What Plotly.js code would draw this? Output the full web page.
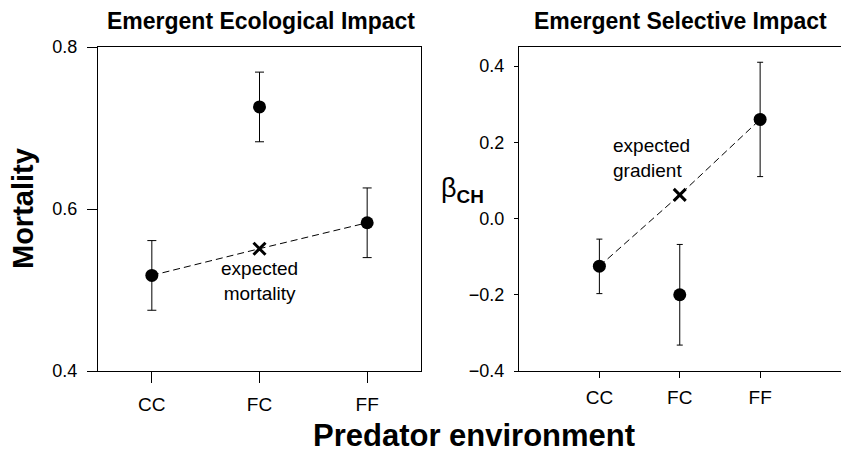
<!DOCTYPE html>
<html>
<head>
<meta charset="utf-8">
<script src="https://cdn.plot.ly/plotly-3.0.1.min.js"></script>
<style>html,body{margin:0;padding:0;background:#fff}#chart{width:841px;height:452px}</style>
</head>
<body>
<div id="chart"></div>
<script>
// ---- data ----
const categories = ['CC', 'FC', 'FF'];
const mortality = [0.518, 0.726, 0.583];
const mortalityErr = [0.043, 0.043, 0.043];
const expectedMortality = 0.551;
const gradient = [-0.125, -0.200, 0.260];
const gradientErrPlus = [0.071, 0.132, 0.150];
const gradientErrMinus = [0.072, 0.132, 0.150];
const expectedGradient = 0.062;
const mortalityTicks = [0.4, 0.6, 0.8];
const gradientTicks = [-0.4, -0.2, 0.0, 0.2, 0.4];

const W = 841, H = 452;
const FONT = 'Liberation Sans, Arial, Helvetica, sans-serif';
const px = v => v / W, py = v => 1 - v / H;

const traces = [
  { // expected line, left
    x: [categories[0], categories[1], categories[2]],
    y: [mortality[0], expectedMortality, mortality[2]],
    mode: 'lines', line: {color: '#000', width: 1, dash: '7px,4px'},
    xaxis: 'x', yaxis: 'y', hoverinfo: 'skip'
  },
  { // expected X, left
    x: [categories[1]], y: [expectedMortality],
    mode: 'markers', marker: {symbol: 'x-thin', size: 12, line: {color: '#000', width: 3}},
    xaxis: 'x', yaxis: 'y'
  },
  { // observed, left
    x: categories, y: mortality, mode: 'markers',
    marker: {color: '#000', size: 13},
    error_y: {type: 'data', array: mortalityErr, color: '#000', thickness: 1, width: 4.5},
    xaxis: 'x', yaxis: 'y'
  },
  { // expected line, right
    x: [categories[0], categories[1], categories[2]],
    y: [gradient[0], expectedGradient, gradient[2]],
    mode: 'lines', line: {color: '#000', width: 1, dash: '7px,4px'},
    xaxis: 'x2', yaxis: 'y2', hoverinfo: 'skip'
  },
  { // expected X, right
    x: [categories[1]], y: [expectedGradient],
    mode: 'markers', marker: {symbol: 'x-thin', size: 12, line: {color: '#000', width: 3}},
    xaxis: 'x2', yaxis: 'y2'
  },
  { // observed, right
    x: categories, y: gradient, mode: 'markers',
    marker: {color: '#000', size: 13},
    error_y: {type: 'data', array: gradientErrPlus, arrayminus: gradientErrMinus, symmetric: false,
              color: '#000', thickness: 1, width: 3},
    xaxis: 'x2', yaxis: 'y2'
  }
];

const axBase = {
  showline: true, linecolor: '#000', linewidth: 1, mirror: true,
  showgrid: false, zeroline: false, ticks: 'outside', tickcolor: '#000', tickwidth: 1,
  tickfont: {family: FONT, size: 18, color: '#000'}
};

const layout = {
  width: W, height: H, margin: {l: 0, r: 0, t: 0, b: 0},
  paper_bgcolor: '#fff', plot_bgcolor: '#fff', showlegend: false,
  font: {family: FONT, color: '#000'},
  xaxis: Object.assign({}, axBase, {
    domain: [px(98), px(421)], anchor: 'y', type: 'category',
    range: [-0.5, 2.5], ticklen: 11, tickfont: {family: FONT, size: 19, color: '#000'}, ticklabelstandoff: 5
  }),
  yaxis: Object.assign({}, axBase, {
    domain: [py(371), py(47)], anchor: 'x', range: [0.4, 0.8],
    tickvals: mortalityTicks, tickformat: '.1f', ticklen: 10, ticklabelstandoff: 6
  }),
  xaxis2: Object.assign({}, axBase, {
    domain: [px(519), px(840.5)], anchor: 'y2', type: 'category',
    range: [-1, 3], ticklen: 6, tickfont: {family: FONT, size: 19, color: '#000'}, ticklabelstandoff: 3
  }),
  yaxis2: Object.assign({}, axBase, {
    domain: [py(371), py(47)], anchor: 'x2', range: [-0.4, 0.45],
    tickvals: gradientTicks, tickformat: '.1f', ticklen: 4, ticklabelstandoff: 6
  }),
  annotations: [
    {text: '<b>Emergent Ecological Impact</b>', xref: 'paper', yref: 'paper', x: px(261), y: py(21),
     xanchor: 'center', yanchor: 'middle', showarrow: false, font: {family: FONT, size: 23}},
    {text: '<b>Emergent Selective Impact</b>', xref: 'paper', yref: 'paper', x: px(680), y: py(21),
     xanchor: 'center', yanchor: 'middle', showarrow: false, font: {family: FONT, size: 23}},
    {text: '<b>Mortality</b>', xref: 'paper', yref: 'paper', x: px(23), y: py(209), textangle: -90,
     xanchor: 'center', yanchor: 'middle', showarrow: false, font: {family: FONT, size: 29}},
    {text: '<b>Predator environment</b>', xref: 'paper', yref: 'paper', x: px(474), y: py(435),
     xanchor: 'center', yanchor: 'middle', showarrow: false, font: {family: FONT, size: 31}},
    {text: 'β<sub><b>CH</b></sub>', xref: 'paper', yref: 'paper', x: px(462), y: py(190),
     xanchor: 'center', yanchor: 'middle', showarrow: false, font: {family: FONT, size: 27}},
    {text: 'expected<br>mortality', xref: 'x', yref: 'y', x: 'FC', y: 0.511,
     xanchor: 'center', yanchor: 'middle', showarrow: false, font: {family: FONT, size: 19}},
    {text: 'expected<br>gradient', xref: 'x2', yref: 'y2', x: 'FC', xshift: -69, xanchor: 'left', y: 0.16,
     yanchor: 'middle', align: 'left', showarrow: false, font: {family: FONT, size: 19}}
  ]
};

Plotly.newPlot('chart', traces, layout, {staticPlot: true, displayModeBar: false});
</script>
</body>
</html>
